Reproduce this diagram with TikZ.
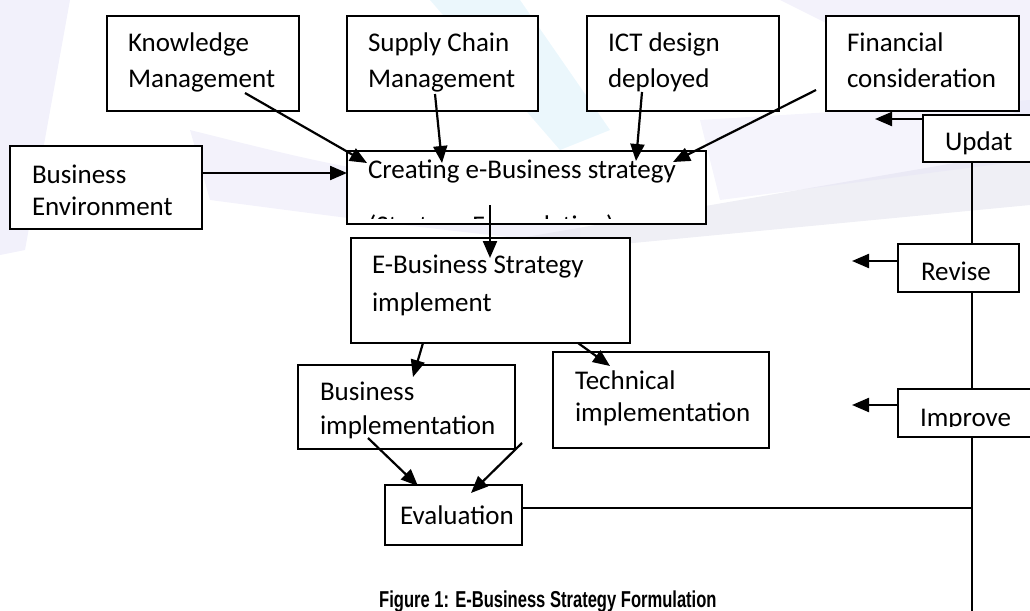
\documentclass[tikz,border=0pt]{standalone}
\usepackage{fontspec}
\setmainfont{Carlito}
\newfontfamily\capfont[FakeStretch=0.72]{Liberation Sans}
\usetikzlibrary{arrows.meta}
\definecolor{wmlav}{RGB}{226,223,246}
\definecolor{wmcyan}{RGB}{218,240,250}
\definecolor{wmgrey}{RGB}{228,228,238}
\tikzset{
  box/.style={draw=black, line width=2.2pt, fill=white, inner sep=0pt, outer sep=0pt, anchor=north west},
  lbl/.style={anchor=base west, inner sep=0pt, outer sep=0pt, font=\fontsize{27}{36}\selectfont},
  arr/.style={line width=2.2pt, -{Triangle[length=17pt,width=14pt]}},
  link/.style={line width=1.8pt},
}
\newcommand\mybox[5]{\node[box, minimum width={#4pt-#2pt}, minimum height={#5pt-#3pt}] (#1) at (#2,#3) {};}
\begin{document}
\begin{tikzpicture}[x=1pt,y=-1pt]
\useasboundingbox (0,0) rectangle (1030,610);
\clip (0,0) rectangle (1030,610);
% faint watermark
\fill[wmlav, opacity=0.45] (0,0) -- (70,0) -- (25,250) -- (0,255) -- cycle;
\fill[wmlav, opacity=0.4] (190,130) .. controls (350,170) .. (580,200) -- (580,245) .. controls (400,225) .. (210,200) -- cycle;
\fill[wmcyan, opacity=0.55] (430,0) -- (520,0) -- (610,130) -- (560,150) -- cycle;
\fill[wmgrey, opacity=0.6] (520,238) -- (1030,150) -- (1030,205) -- (560,250) -- cycle;
\fill[wmlav, opacity=0.4] (780,0) -- (1030,0) -- (1030,120) -- (900,60) -- cycle;
\fill[wmlav, opacity=0.35] (700,120) -- (1030,100) -- (1030,160) -- (720,200) -- cycle;
% boxes
\mybox{km}{107}{16}{299}{111}
\mybox{sc}{347}{16}{538}{111}
\mybox{ict}{587}{16}{779}{111}
\mybox{fin}{826}{16}{1019}{111}
\mybox{upd}{923}{115}{1045}{162}
\mybox{be}{10}{146}{202}{229}
\mybox{cr}{347}{151}{706}{224}
\mybox{eb}{351}{238}{630}{343}
\mybox{rev}{898}{244}{1019}{292}
\mybox{bi}{298}{365}{515}{449}
\mybox{ti}{553}{352}{769}{448}
\mybox{imp}{898}{389}{1045}{437}
\mybox{ev}{385}{485}{522}{545}
% texts
\node[lbl] (kmA) at (128,52) {Knowledge};
\node[lbl] (kmB) at (128,88) {Management};
\node[lbl] (scA) at (368,52) {Supply Chain};
\node[lbl] (scB) at (368,88) {Management};
\node[lbl] (ictA) at (608,52) {ICT design};
\node[lbl] (ictB) at (608,88) {deployed};
\node[lbl] (finA) at (847,52) {Financial};
\node[lbl] (finB) at (847,88) {consideration};
\node[lbl] (beA) at (32,183) {Business};
\node[lbl] (beB) at (32,215) {Environment};
\node[lbl] (crA) at (368,178) {Creating e-Business strategy};
\begin{scope}
\clip (347,151) rectangle (706,218.5);
\node[lbl] (crB) at (368,234) {(Strategy Formulation)};
\end{scope}
\node[lbl] (ebA) at (372,273) {E-Business Strategy};
\node[lbl] (ebB) at (372,311) {implement};
\node[lbl] (biA) at (320,400) {Business};
\node[lbl] (biB) at (320,434) {implementation};
\node[lbl] (tiA) at (575,389) {Technical};
\node[lbl] (tiB) at (575,421) {implementation};
\node[lbl] (evA) at (400,524) {Evaluation};
\node[lbl] (updA) at (945,150) {Updat};
\node[lbl] (revA) at (921,280) {Revise};
\begin{scope}
\clip (898,389) rectangle (1030,426.5);
\node[lbl] (impA) at (920,426) {Improve};
\end{scope}
\node[anchor=base west, inner sep=0pt] (cap) at (379,607) {\capfont\bfseries\fontsize{23}{26}\selectfont Figure 1: E-Business Strategy Formulation};
% connector points
\coordinate (kmS) at (245,93);   \coordinate (kmT) at (367,163);
\coordinate (scS) at (435,94);   \coordinate (scT) at (442,163);
\coordinate (ictS) at (642,92);  \coordinate (ictT) at (636,161);
\coordinate (finS) at (816,90);  \coordinate (finT) at (673,162);
\coordinate (beS) at (202,173);  \coordinate (beT) at (347,173);
\coordinate (crS) at (490,205);  \coordinate (crT) at (490,258);
\coordinate (ebS1) at (423,343); \coordinate (biT) at (413,377);
\coordinate (ebS2) at (578,343); \coordinate (tiT) at (610,366);
\coordinate (biS) at (368,438);  \coordinate (evT1) at (418,486);
\coordinate (tiS) at (522,443);  \coordinate (evT2) at (471,493);
\coordinate (updS) at (923,119); \coordinate (updT) at (875,119);
\coordinate (revS) at (898,261); \coordinate (revT) at (852,261);
\coordinate (impS) at (898,405); \coordinate (impT) at (852,405);
\coordinate (vx) at (972,508);
\coordinate (vend) at (972,612);
% arrows
\draw[arr] (kmS) -- (kmT);
\draw[arr] (scS) -- (scT);
\draw[arr] (ictS) -- (ictT);
\draw[arr] (finS) -- (finT);
\draw[arr] (beS) -- (beT);
\draw[arr] (crS) -- (crT);
\draw[arr] (ebS1) -- (biT);
\draw[arr] (ebS2) -- (tiT);
\draw[arr] (biS) -- (evT1);
\draw[arr] (tiS) -- (evT2);
\draw[arr] (updS) -- (updT);
\draw[arr] (revS) -- (revT);
\draw[arr] (impS) -- (impT);
% feedback line
\draw[link] (upd.south -| vx) -- (rev.north -| vx);
\draw[link] (rev.south -| vx) -- (imp.north -| vx);
\draw[link] (imp.south -| vx) -- (vend);
\draw[link] (ev.east |- vx) -- (vx);
\end{tikzpicture}
\end{document}
